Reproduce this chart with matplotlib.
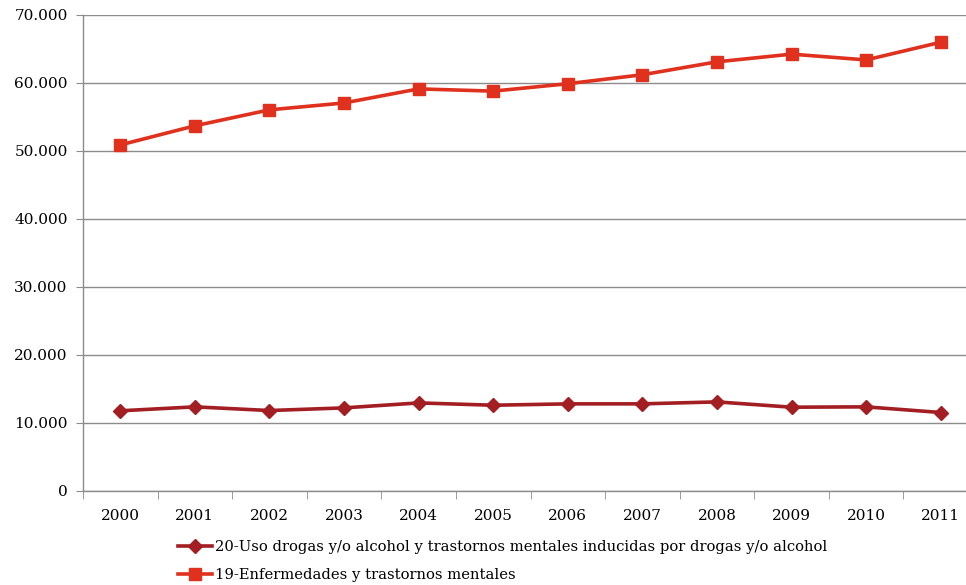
import numpy as np
import matplotlib.pyplot as plt
from matplotlib.ticker import FuncFormatter

# data
years = ['2000', '2001', '2002', '2003', '2004', '2005',
         '2006', '2007', '2008', '2009', '2010', '2011']
drogas = [11750, 12330, 11790, 12180, 12910, 12570,
          12770, 12770, 13060, 12280, 12330, 11500]
mentales = [50850, 53660, 56010, 57020, 59090, 58760,
            59850, 61170, 63070, 64200, 63350, 65950]
label_drogas = '20-Uso drogas y/o alcohol y trastornos mentales inducidas por drogas y/o alcohol'
label_mentales = '19-Enfermedades y trastornos mentales'

plt.rcParams['font.family'] = ['DejaVu Serif']

fig = plt.figure(figsize=(9.66, 5.85), dpi=100)
ax = fig.add_axes([83/966, 1 - 490.7/585, 895/966, (490.7 - 14.7)/585])

x = np.arange(len(years))
ax.plot(x, drogas, color='#a21e22', lw=2.6, marker='D', ms=7,
        label=label_drogas)
ax.plot(x, mentales, color='#e0301e', lw=2.6, marker='s', ms=9,
        label=label_mentales)

ax.set_xlim(-0.5, len(years) - 0.5)
ax.set_ylim(0, 70000)
ax.set_yticks(np.arange(0, 70001, 10000))
ax.yaxis.set_major_formatter(FuncFormatter(lambda v, p: f'{int(v):,}'.replace(',', '.')))
ax.set_xticks(x)
ax.set_xticklabels(years)
ax.set_xticks(np.arange(-0.5, len(years), 1), minor=True)

ax.grid(axis='y', color='#8c8c8c', lw=1)
ax.set_axisbelow(True)
for s in ['top', 'right']:
    ax.spines[s].set_visible(False)
for s in ['left', 'bottom']:
    ax.spines[s].set_color('#8c8c8c')
    ax.spines[s].set_linewidth(1)

ax.tick_params(axis='y', length=5, color='#8c8c8c', labelsize=11, pad=6)
ax.tick_params(axis='x', which='major', length=0, labelsize=11, pad=13)
ax.tick_params(axis='x', which='minor', length=6, color='#8c8c8c')

fig.legend(loc='upper left', bbox_to_anchor=(171/966, 1 - 533/585),
           frameon=False, fontsize=10.6, handlelength=2.3,
           handletextpad=0.2, borderpad=0, labelspacing=0.95)

fig.savefig('out.png', dpi=100)
